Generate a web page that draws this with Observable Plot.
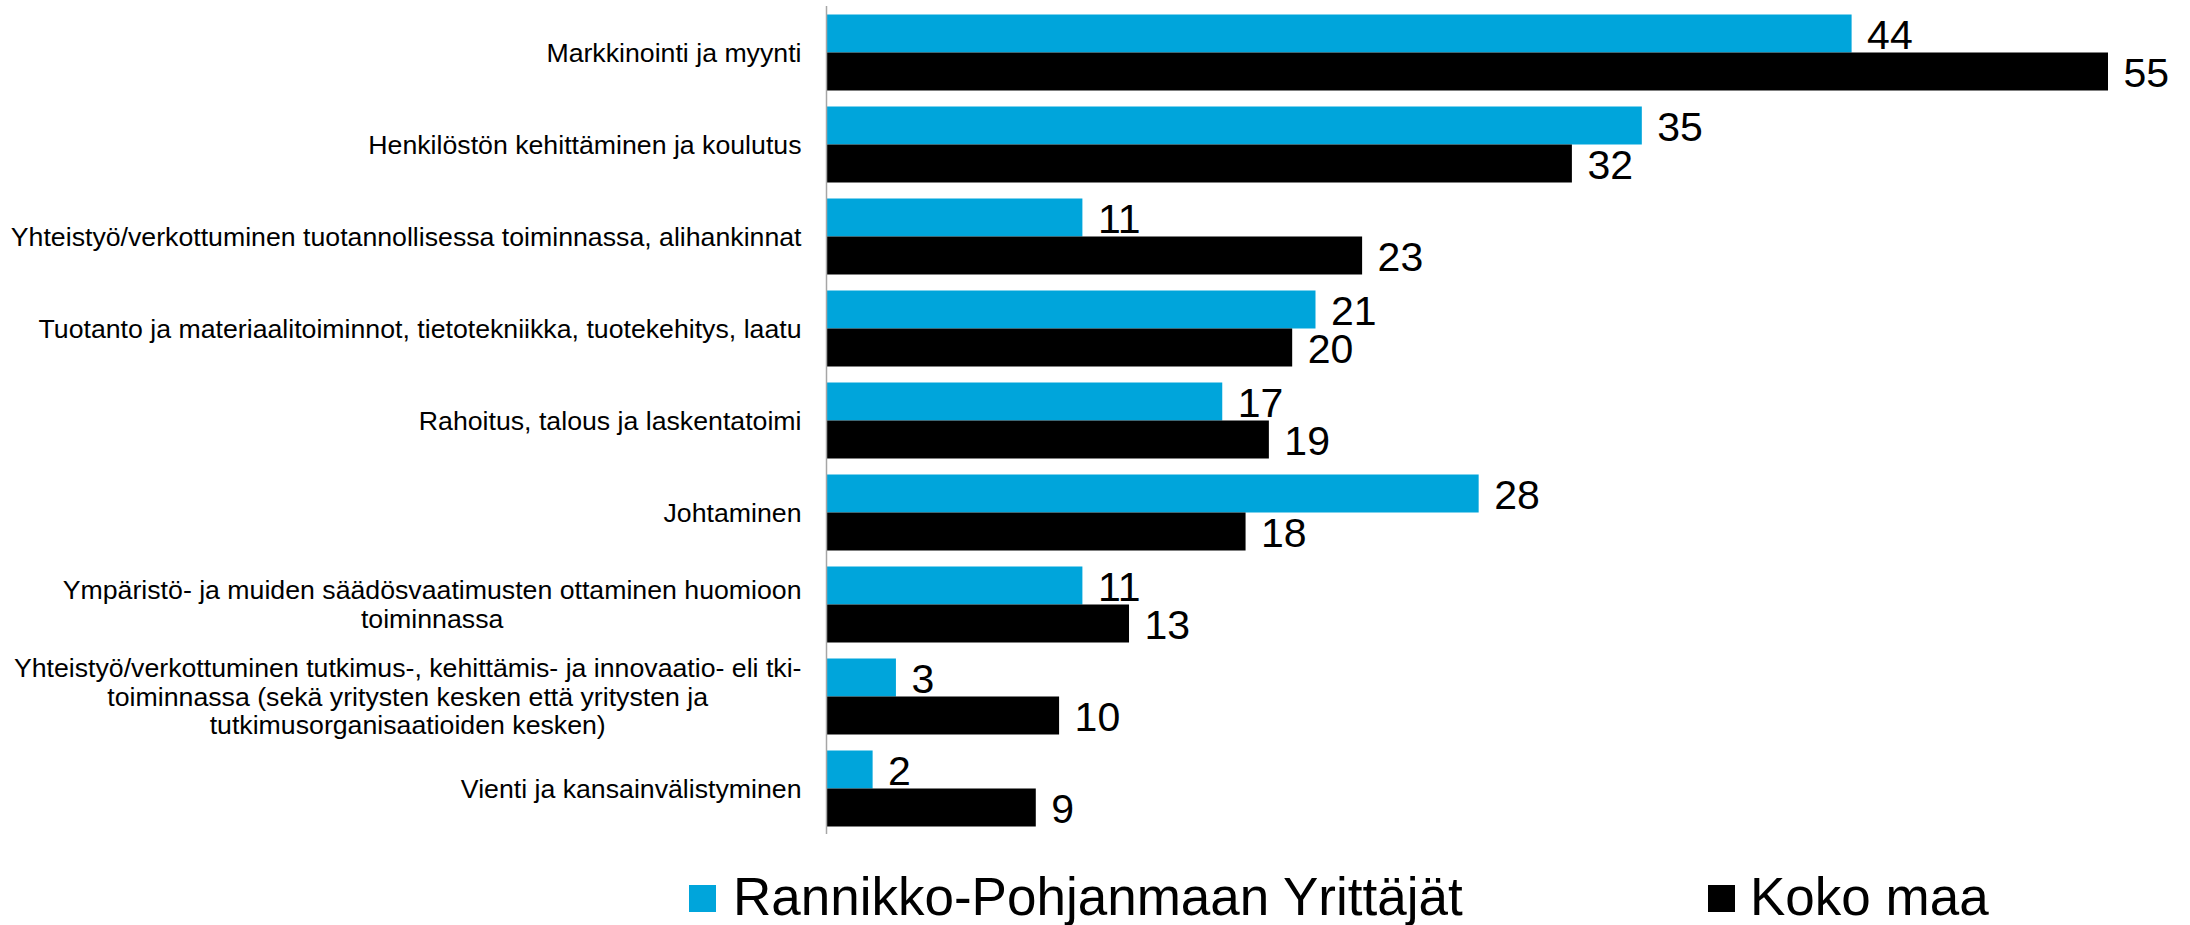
<!DOCTYPE html>
<html>
<head>
<meta charset="utf-8">
<script src="https://cdn.jsdelivr.net/npm/d3@7"></script>
<script src="https://cdn.jsdelivr.net/npm/@observablehq/plot@0.6"></script>
<style>
  html, body { margin: 0; padding: 0; background: #fff; }
  body { width: 2190px; height: 925px; position: relative; overflow: hidden; font-family: "Liberation Sans", Arial, sans-serif; }
  #chart svg { display: block; }
  .swatch { position: absolute; width: 26.5px; height: 26.5px; }
  .legend-label { position: absolute; font-size: 53px; line-height: 53px; white-space: nowrap; color: #000; }
</style>
</head>
<body>
<div id="chart"></div>
<div id="legend"></div>
<script>
// ---- Data ----
const categories = [
  "Markkinointi ja myynti",
  "Henkilöstön kehittäminen ja koulutus",
  "Yhteistyö/verkottuminen tuotannollisessa toiminnassa, alihankinnat",
  "Tuotanto ja materiaalitoiminnot, tietotekniikka, tuotekehitys, laatu",
  "Rahoitus, talous ja laskentatoimi",
  "Johtaminen",
  "Ympäristö- ja muiden säädösvaatimusten ottaminen huomioon\ntoiminnassa",
  "Yhteistyö/verkottuminen tutkimus-, kehittämis- ja innovaatio- eli tki-\ntoiminnassa (sekä yritysten kesken että yritysten ja\ntutkimusorganisaatioiden kesken)",
  "Vienti ja kansainvälistyminen"
];
const seriesNames = ["Rannikko-Pohjanmaan Yrittäjät", "Koko maa"];
const regionalValues = [44, 35, 11, 21, 17, 28, 11, 3, 2];
const nationalValues = [55, 32, 23, 20, 19, 18, 13, 10, 9];
const seriesColors = ["#00A5DB", "#000000"];

// ---- Table for Plot ----
const data = [];
categories.forEach((c, i) => {
  data.push({category: c, series: seriesNames[0], value: regionalValues[i]});
  data.push({category: c, series: seriesNames[1], value: nationalValues[i]});
});

// measure label widths for centered multi-line blocks right-aligned to axis
const labelFontSize = 26.7;
const fontFamily = "'Liberation Sans', Arial, sans-serif";
const ctx = document.createElement("canvas").getContext("2d");
ctx.font = `${labelFontSize}px ${fontFamily}`;
function blockWidth(s) {
  return d3.max(s.split("\n"), line => ctx.measureText(line).width);
}
const labelGap = 25;

const labelMarks = categories.map(c =>
  Plot.text([c], {
    fy: d => d,
    text: d => d,
    frameAnchor: "left",
    textAnchor: "middle",
    dx: -(labelGap + blockWidth(c) / 2),
    fontSize: labelFontSize,
    lineHeight: 1.06,
    fill: "#000"
  })
);

const chart = Plot.plot({
  width: 2190,
  height: 845,
  marginLeft: 826,
  marginRight: 82,
  marginTop: 5.5,
  marginBottom: 11.5,
  style: {fontFamily: "Liberation Sans, Arial, sans-serif", background: "#fff"},
  x: {domain: [0, 55], axis: null},
  fy: {domain: categories, padding: 0, axis: null},
  y: {domain: seriesNames, paddingInner: 0, paddingOuter: 0.204, axis: null},
  color: {domain: seriesNames, range: seriesColors},
  marks: [
    Plot.barX(data, {fy: "category", y: "series", x: "value", fill: "series"}),
    Plot.text(data, {
      fy: "category", y: "series", x: "value",
      text: d => String(d.value),
      textAnchor: "start", dx: 15, dy: 2,
      fontSize: 41, fill: "#000"
    }),
    Plot.ruleX([0], {stroke: "#a6a6a6", strokeWidth: 1.5}),
    ...labelMarks
  ]
});
document.getElementById("chart").appendChild(chart);

// ---- Legend ----
const legend = document.getElementById("legend");
const legendPos = [
  {sw: 689, tx: 733},
  {sw: 1708, tx: 1750}
];
seriesNames.forEach((name, i) => {
  const sw = document.createElement("div");
  sw.className = "swatch";
  sw.style.left = legendPos[i].sw + "px";
  sw.style.top = "885px";
  sw.style.background = seriesColors[i];
  legend.appendChild(sw);
  const lb = document.createElement("div");
  lb.className = "legend-label";
  lb.style.left = legendPos[i].tx + "px";
  lb.style.top = "870px";
  lb.textContent = name;
  legend.appendChild(lb);
});
</script>
</body>
</html>
